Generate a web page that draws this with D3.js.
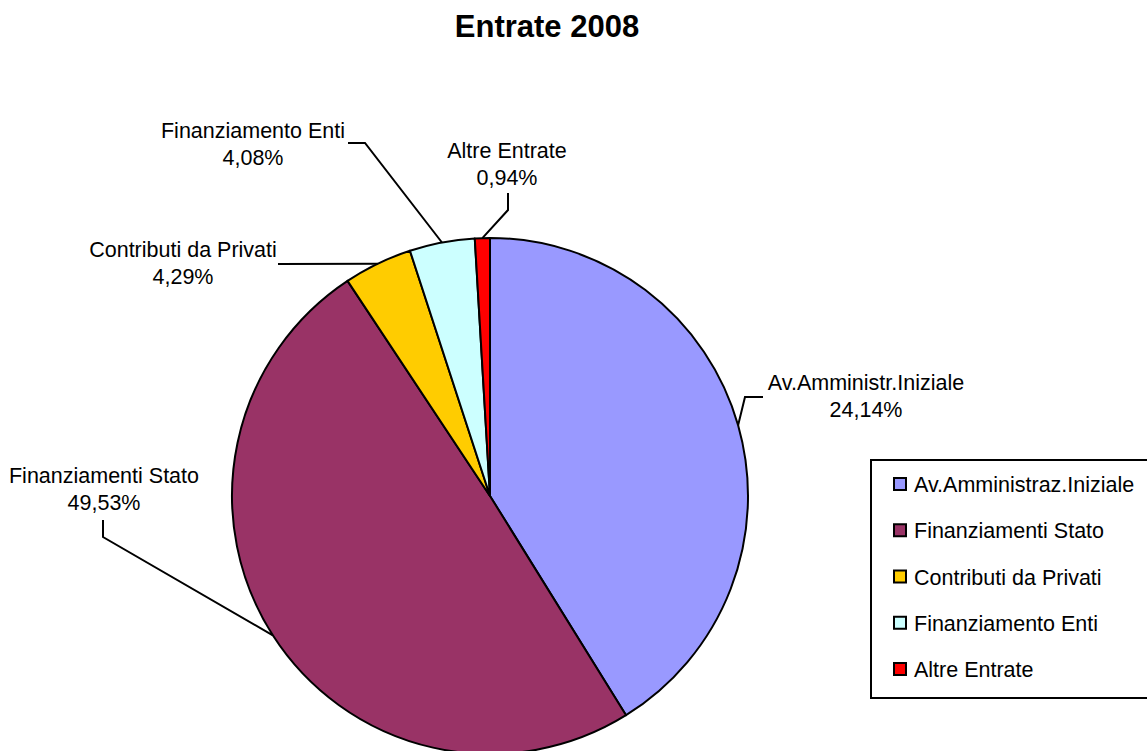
<!DOCTYPE html>
<html>
<head>
<meta charset="utf-8">
<script src="https://cdn.jsdelivr.net/npm/d3@7"></script>
<style>
  body { margin: 0; background: #fff; }
  svg { display: block; font-family: "Liberation Sans", Arial, sans-serif; }
</style>
</head>
<body>
<div id="chart"></div>
<script>
// chart data
var categories = ['Av.Amministraz.Iniziale', 'Finanziamenti Stato', 'Contributi da Privati', 'Finanziamento Enti', 'Altre Entrate'];
var sliceNames = ['Av.Amministr.Iniziale', 'Finanziamenti Stato', 'Contributi da Privati', 'Finanziamento Enti', 'Altre Entrate'];
var values = [41.16, 49.53, 4.29, 4.08, 0.94];
var shownPercents = ['24,14%', '49,53%', '4,29%', '4,08%', '0,94%'];
var colors = ['#9999FF', '#993366', '#FFCC00', '#CCFFFF', '#FF0000'];

var W = 1147, H = 751;
var cx = 490, cy = 496, r = 258;

// label placement (center x, first baseline y, leader elbow, leader end near text)
var labelLayout = [
  { x: 866, y: 390, elbow: [745, 397], end: [763, 397] },
  { x: 104, y: 483, elbow: [103, 537], end: [103, 520] },
  { x: 183, y: 257, elbow: [330, 265], end: [278, 264] },
  { x: 253, y: 138, elbow: [365, 143], end: [348, 143] },
  { x: 507, y: 158, elbow: [508, 210], end: [508, 193] }
];

var svg = d3.select('#chart').append('svg')
  .attr('width', W)
  .attr('height', H);

svg.append('text')
  .attr('x', 547)
  .attr('y', 37)
  .attr('text-anchor', 'middle')
  .style('font-weight', 'bold')
  .style('font-size', '31px')
  .text('Entrate 2008');

var pie = d3.pie().sort(null).value(function(d) { return d; });
var arcs = pie(values);
var arc = d3.arc().innerRadius(0).outerRadius(r);
var edgeArc = d3.arc().innerRadius(r).outerRadius(r);

var g = svg.append('g').attr('transform', 'translate(' + cx + ',' + cy + ')');

g.selectAll('path.slice')
  .data(arcs)
  .enter().append('path')
  .attr('class', 'slice')
  .attr('d', arc)
  .attr('fill', function(d, i) { return colors[i]; })
  .attr('stroke', '#000')
  .attr('stroke-width', 2)
  .attr('stroke-linejoin', 'round');

// leader lines
svg.selectAll('polyline.leader')
  .data(arcs)
  .enter().append('polyline')
  .attr('class', 'leader')
  .attr('fill', 'none')
  .attr('stroke', '#000')
  .attr('stroke-width', 2)
  .attr('points', function(d, i) {
    var p = edgeArc.centroid(d);
    var L = labelLayout[i];
    if (i === 2) return [[cx + p[0], cy + p[1]], L.end].join(' ');
    return [[cx + p[0], cy + p[1]], L.elbow, L.end].join(' ');
  });

// slice labels
var labels = svg.selectAll('text.lbl')
  .data(arcs)
  .enter().append('text')
  .attr('class', 'lbl')
  .attr('text-anchor', 'middle')
  .style('font-size', '21.5px')
  .attr('x', function(d, i) { return labelLayout[i].x; })
  .attr('y', function(d, i) { return labelLayout[i].y; });

labels.append('tspan')
  .attr('x', function(d, i) { return labelLayout[i].x; })
  .text(function(d, i) { return sliceNames[i]; });
labels.append('tspan')
  .attr('x', function(d, i) { return labelLayout[i].x; })
  .attr('dy', 27)
  .text(function(d, i) { return shownPercents[i]; });

// legend
var legend = svg.append('g').attr('transform', 'translate(871,460)');
legend.append('rect')
  .attr('width', 290)
  .attr('height', 238)
  .attr('fill', '#fff')
  .attr('stroke', '#000')
  .attr('stroke-width', 2);

var rowY = d3.scalePoint().domain(categories).range([24, 209]);

var items = legend.selectAll('g.item')
  .data(categories)
  .enter().append('g')
  .attr('class', 'item')
  .attr('transform', function(d) { return 'translate(0,' + rowY(d) + ')'; });

items.append('rect')
  .attr('x', 23)
  .attr('y', -6)
  .attr('width', 12)
  .attr('height', 12)
  .attr('fill', function(d, i) { return colors[i]; })
  .attr('stroke', '#000')
  .attr('stroke-width', 2);

items.append('text')
  .attr('x', 43)
  .attr('y', 8)
  .style('font-size', '21.5px')
  .text(function(d) { return d; });
</script>
</body>
</html>
